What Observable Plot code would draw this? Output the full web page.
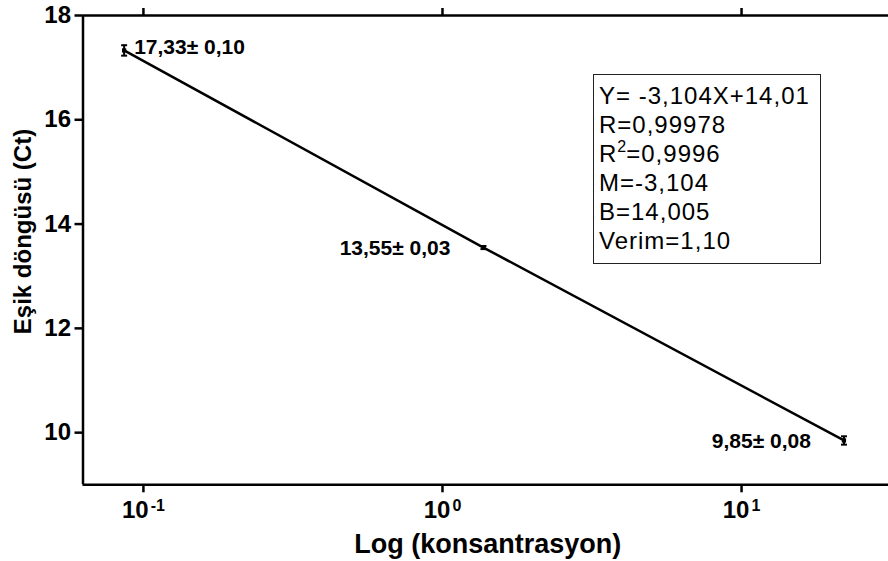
<!DOCTYPE html>
<html>
<head>
<meta charset="utf-8">
<script src="https://cdn.jsdelivr.net/npm/d3@7"></script>
<script src="https://cdn.jsdelivr.net/npm/@observablehq/plot@0.6"></script>
<style>
  html, body { margin: 0; padding: 0; background: white; }
  #wrap { position: relative; width: 888px; height: 561px; overflow: hidden; font-family: "Liberation Sans", Arial, sans-serif; }
  #box {
    position: absolute; left: 593px; top: 74px; width: 221px; height: 182px;
    border: 1.5px solid #222; background: white;
    font-size: 24px; letter-spacing: 1px; line-height: 29px;
    padding: 6px 0 0 5px; box-sizing: content-box; color: #000;
  }
  #box sup { font-size: 16px; line-height: 0; position: relative; top: -1px; letter-spacing: 0; }
</style>
</head>
<body>
<div id="wrap"></div>
<script>
// ---- data ----
const concentrations = [0.0862, 1.371, 22.0];
const ctMeans = [17.33, 13.55, 9.85];
const ctSD = [0.10, 0.03, 0.08];
const pointLabels = ["17,33\u00b1 0,10", "13,55\u00b1 0,03", "9,85\u00b1 0,08"];
const xTicks = [0.1, 1, 10];
const xTickExponents = ["-1", "0", "1"];
const yTicks = [10, 12, 14, 16, 18];
const statLines = ["Y= -3,104X+14,01", "R=0,99978", "R<sup>2</sup>=0,9996", "M=-3,104", "B=14,005", "Verim=1,10"];
const xLabel = "Log (konsantrasyon)";
const yLabel = "E\u015fik d\u00f6ng\u00fcs\u00fc (Ct)";

const data = concentrations.map((c, i) => ({conc: c, ct: ctMeans[i], sd: ctSD[i], label: pointLabels[i]}));

const xMin = 0.0628, xMax = 31;

const capSymbol = {
  draw(ctx, size) {
    const w = Math.sqrt(size / Math.PI);
    ctx.moveTo(-w, 0);
    ctx.lineTo(w, 0);
  }
};

const chart = Plot.plot({
  width: 888,
  height: 561,
  marginLeft: 82.5,
  marginRight: 0,
  marginTop: 15,
  marginBottom: 76.7,
  style: {fontFamily: "'Liberation Sans', Arial, sans-serif", color: "black", background: "white", overflow: "visible"},
  x: {type: "log", domain: [xMin, xMax]},
  y: {domain: [9, 18]},
  marks: [
    Plot.ruleY([9, 18], {stroke: "black", strokeWidth: 2.5}),
    Plot.ruleX([xMin], {stroke: "black", strokeWidth: 2.5}),
    Plot.axisY({ticks: yTicks, tickSize: 8, tickPadding: 4, fontSize: 24, fontWeight: "bold", strokeWidth: 2.5, label: null, tickFormat: d => String(d)}),
    Plot.axisX({ticks: xTicks, tickSize: 8, tickPadding: 8.5, fontSize: 24, fontWeight: "bold", strokeWidth: 2.5, label: null,
      tickFormat: d => "10^" + xTickExponents[xTicks.indexOf(d)]}),
    Plot.axisX({anchor: "top", ticks: xTicks, tickSize: 8, strokeWidth: 2.5, label: null, tickFormat: () => ""}),
    Plot.line(data, {x: "conc", y: "ct", stroke: "black", strokeWidth: 2.5}),
    Plot.ruleX(data, {x: "conc", y1: d => d.ct - d.sd, y2: d => d.ct + d.sd, stroke: "black", strokeWidth: 2}),
    Plot.dot(data, {x: "conc", y: d => d.ct - d.sd, symbol: capSymbol, r: 3, stroke: "black", strokeWidth: 2, fill: "none"}),
    Plot.dot(data, {x: "conc", y: d => d.ct + d.sd, symbol: capSymbol, r: 3, stroke: "black", strokeWidth: 2, fill: "none"}),
    Plot.dot(data, {x: "conc", y: "ct", symbol: "square", r: 2.4, fill: "black", stroke: null}),
    Plot.text(data.slice(0, 1), {x: "conc", y: "ct", text: "label", textAnchor: "start", dx: 10, dy: -3, fontSize: 21, fontWeight: "bold", fill: "black"}),
    Plot.text(data.slice(1), {x: "conc", y: "ct", text: "label", textAnchor: "end", dx: -33, dy: 1, fontSize: 21, fontWeight: "bold", fill: "black"}),
    Plot.text([yLabel], {frameAnchor: "left", rotate: -90, textAnchor: "middle", lineAnchor: "middle", dx: -59.5, dy: -18.6, fontSize: 24, fontWeight: "bold", fill: "black"}),
    Plot.text([xLabel], {frameAnchor: "bottom", textAnchor: "middle", lineAnchor: "middle", dx: 2, dy: 60, fontSize: 27, fontWeight: "bold", fill: "black"})
  ]
});

// superscripts for the log tick labels
chart.querySelectorAll('g[aria-label="x-axis tick label"] text').forEach(t => {
  const s = t.textContent;
  const parts = s.split("^");
  if (parts.length === 2) {
    t.textContent = "";
    const base = document.createElementNS("http://www.w3.org/2000/svg", "tspan");
    base.textContent = parts[0];
    const sup = document.createElementNS("http://www.w3.org/2000/svg", "tspan");
    sup.textContent = parts[1];
    sup.setAttribute("font-size", "16px");
    sup.setAttribute("dy", "-7");
    sup.setAttribute("dx", "2");
    t.appendChild(base);
    t.appendChild(sup);
  }
});

const wrap = document.getElementById("wrap");
wrap.appendChild(chart);
const box = document.createElement("div");
box.id = "box";
box.innerHTML = statLines.join("<br>");
wrap.appendChild(box);
</script>
</body>
</html>
